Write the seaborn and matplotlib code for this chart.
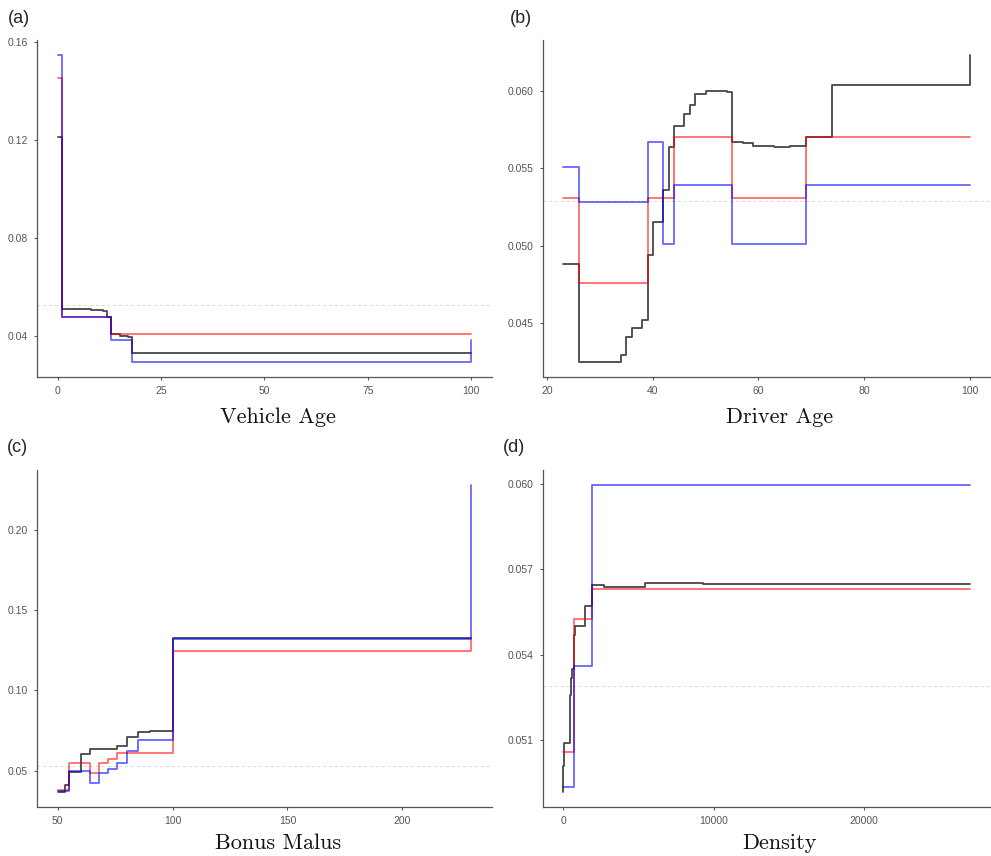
import matplotlib
matplotlib.use('Agg')
import matplotlib.pyplot as plt
from matplotlib.ticker import FormatStrFormatter
import pandas as pd
import seaborn as sns

# (a) Vehicle Age
va_black_x = [0, 1, 8, 11, 12, 13, 15, 17, 18, 100]
va_black_y = [0.1212, 0.0511, 0.0507, 0.0502, 0.0477, 0.0409, 0.0401, 0.0395, 0.0331, 0.0331]
va_red_x = [0, 1, 13, 100]
va_red_y = [0.1454, 0.0479, 0.0409, 0.0409]
va_blue_x = [0, 1, 13, 18, 100]
va_blue_y = [0.1545, 0.0480, 0.0385, 0.0296, 0.0383]

# (b) Driver Age
da_black_x = [23, 26, 34, 35, 36, 38, 39, 40, 42, 43, 44, 46, 47, 48, 50, 53, 54, 55,
              57, 59, 63, 66, 69, 74, 100]
da_black_y = [0.0488, 0.0425, 0.0429, 0.0441, 0.0447, 0.0452, 0.0494, 0.0515, 0.0536,
              0.0564, 0.0577, 0.0585, 0.0591, 0.0598, 0.0600, 0.0600, 0.0599, 0.0567,
              0.05665, 0.05644, 0.05637, 0.05644, 0.0570, 0.0604, 0.0623]
da_red_x = [23, 26, 39, 44, 55, 69, 100]
da_red_y = [0.0531, 0.0476, 0.0531, 0.0570, 0.0531, 0.0570, 0.0570]
da_blue_x = [23, 26, 39, 42, 44, 55, 69, 100]
da_blue_y = [0.0551, 0.0528, 0.0567, 0.0501, 0.0539, 0.0501, 0.0539, 0.0539]

# (c) Bonus Malus
bm_black_x = [50, 53, 55, 60, 64, 76, 80, 85, 90, 100, 230]
bm_black_y = [0.0368, 0.0411, 0.0492, 0.0605, 0.0636, 0.0652, 0.0711, 0.0740, 0.0746, 0.1322, 0.1322]
bm_red_x = [50, 55, 64, 68, 72, 76, 100, 230]
bm_red_y = [0.0376, 0.0544, 0.0482, 0.0544, 0.0574, 0.0611, 0.1245, 0.1320]
bm_blue_x = [50, 55, 64, 68, 72, 76, 80, 85, 100, 230]
bm_blue_y = [0.0374, 0.0500, 0.0423, 0.0483, 0.0512, 0.0548, 0.0621, 0.0691, 0.1319, 0.2275]

# (d) Density
de_black_x = [0, 30, 70, 440, 520, 600, 722, 800, 1470, 1930, 2690, 5430, 9300, 27000]
de_black_y = [0.0492, 0.0501, 0.0509, 0.0526, 0.0532, 0.0535, 0.0547, 0.0550, 0.0557,
              0.05646, 0.05638, 0.05652, 0.05648, 0.05648]
de_red_x = [0, 722, 1930, 27000]
de_red_y = [0.05058, 0.05526, 0.05631, 0.05631]
de_blue_x = [0, 722, 1930, 27000]
de_blue_y = [0.04936, 0.0536, 0.05995, 0.05995]

overall_mean = 0.0529

panel_labels = ['(a)', '(b)', '(c)', '(d)']
x_labels = ['Vehicle Age', 'Driver Age', 'Bonus Malus', 'Density']
x_ticks = [[0, 25, 50, 75, 100], [20, 40, 60, 80, 100], [50, 100, 150, 200], [0, 10000, 20000]]
y_ticks = [[0.04, 0.08, 0.12, 0.16], [0.045, 0.050, 0.055, 0.060],
           [0.05, 0.10, 0.15, 0.20], [0.051, 0.054, 0.057, 0.060]]
y_formats = ['%.2f', '%.3f', '%.2f', '%.3f']

panels = [
    [(va_black_x, va_black_y), (va_red_x, va_red_y), (va_blue_x, va_blue_y)],
    [(da_black_x, da_black_y), (da_red_x, da_red_y), (da_blue_x, da_blue_y)],
    [(bm_black_x, bm_black_y), (bm_red_x, bm_red_y), (bm_blue_x, bm_blue_y)],
    [(de_black_x, de_black_y), (de_red_x, de_red_y), (de_blue_x, de_blue_y)],
]
line_styles = [('black', 0.72), ('red', 0.58), ('blue', 0.6)]

# axes boxes in figure fraction: left, bottom, width, height
boxes = [
    [0.0373, 0.5596, 0.4592, 0.3937],
    [0.5476, 0.5596, 0.4514, 0.3937],
    [0.0373, 0.0572, 0.4592, 0.3937],
    [0.5476, 0.0572, 0.4514, 0.3937],
]
label_pos = [(0.0084, 0.9786), (0.5146, 0.9786), (0.0074, 0.4770), (0.5079, 0.4775)]
xlabel_y = [-0.12, -0.12, -0.108, -0.108]

sns.set_style('ticks')
plt.rcParams['font.family'] = ['Liberation Sans', 'DejaVu Sans']

fig = plt.figure(figsize=(9.91, 8.56), dpi=100)

for i, series in enumerate(panels):
    ax = fig.add_axes(boxes[i])
    ax.axhline(overall_mean, color='#d8d8d8', lw=0.7, ls=(0, (3, 3)), zorder=0)
    for (xs, ys), (color, alpha) in zip(series, line_styles):
        df = pd.DataFrame({'x': xs, 'y': ys})
        sns.lineplot(data=df, x='x', y='y', ax=ax, color=color, alpha=alpha,
                     drawstyle='steps-post', estimator=None, errorbar=None, lw=1.3)
    ax.margins(x=0.05, y=0.05)
    ax.set_xticks(x_ticks[i])
    ax.set_yticks(y_ticks[i])
    ax.yaxis.set_major_formatter(FormatStrFormatter(y_formats[i]))
    ax.tick_params(labelsize=7.5, colors='#555555', labelcolor='#555555', length=2.5, width=0.8, pad=4)
    for side in ['top', 'right']:
        ax.spines[side].set_visible(False)
    for side in ['left', 'bottom']:
        ax.spines[side].set_color('#555555')
        ax.spines[side].set_linewidth(0.9)
    ax.set_ylabel('')
    ax.set_xlabel(x_labels[i], fontfamily='cmr10', fontsize=16, color='#111111')
    ax.xaxis.set_label_coords(0.53, xlabel_y[i])
    ax.xaxis.label.set_verticalalignment('center')
    fig.text(label_pos[i][0], label_pos[i][1], panel_labels[i], fontsize=13, va='center', ha='left')

plt.savefig('out.png', dpi=100)
